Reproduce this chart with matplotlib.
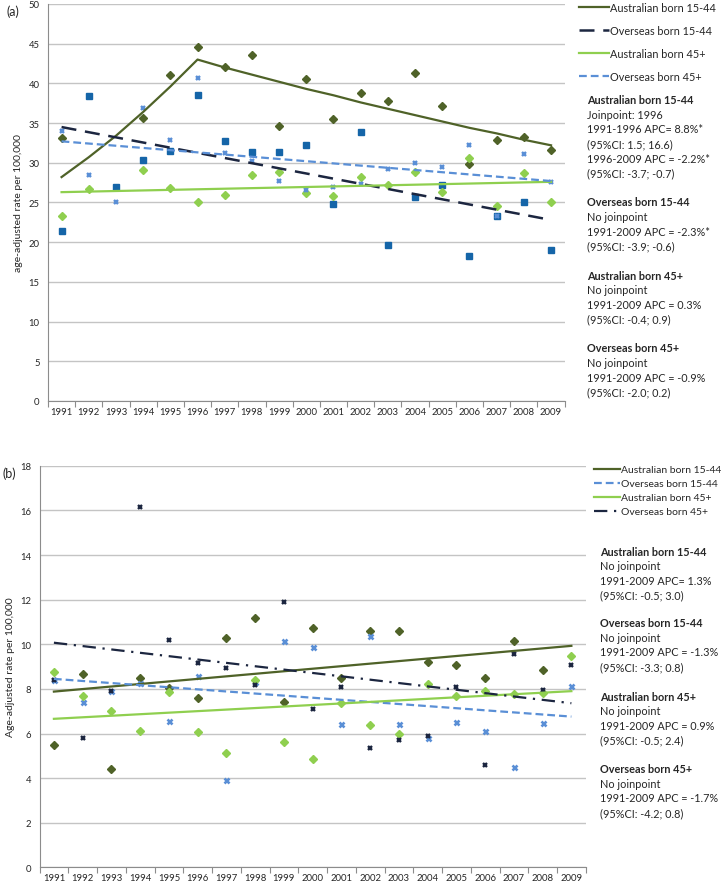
import numpy as np
import matplotlib.pyplot as plt

plt.rcParams['font.family'] = ['Lato', 'DejaVu Sans']

years = list(range(1991, 2010))
nan = np.nan

# ---- panel (a) observed rates
aus1544_a = [33.1, nan, nan, 35.7, 41.1, 44.6, 42.0, 43.6, 34.6, 40.5, 35.5, 38.8, 37.8, 41.3, 37.1, 29.8, 32.9, 33.2, 31.6]
os1544_a = [21.4, 38.4, 26.9, 30.4, 31.5, 38.5, 32.7, 31.3, 31.4, 32.2, 24.8, 33.9, 19.7, 25.7, 27.2, 18.2, 23.3, 25.1, 19.0]
aus45_a = [23.3, 26.7, nan, 29.1, 26.8, 25.0, 25.9, 28.5, 28.8, 26.2, 25.8, 28.2, 27.2, 28.9, 26.3, 30.6, 24.6, 28.7, 25.0]
os45_a = [34.0, 28.5, 25.1, 36.9, 32.9, 40.7, 31.2, 30.2, 27.7, 26.6, 27.0, 27.3, 29.2, 30.0, 29.5, 32.3, 23.3, 31.1, 27.6]

# joinpoint fit for Australian born 15-44
aus1544_a_fit = [28.2, 30.7, 33.4, 36.4, 39.6, 43.0, 42.0, 41.1, 40.2, 39.3, 38.5, 37.6, 36.8, 36.0, 35.2, 34.4, 33.7, 32.9, 32.2]
# straight trend lines: values at 1991 and 2009
fit_years = [1991, 2009]
os1544_a_fit = [34.5, 22.8]
aus45_a_fit = [26.3, 27.6]
os45_a_fit = [32.7, 27.7]

# ---- panel (b) observed rates
aus1544_b = [5.49, 8.65, 4.42, 8.47, 8.04, 7.6, 10.29, 11.17, 7.42, 10.71, 8.5, 10.58, 10.59, 9.2, 9.07, 8.51, 10.13, 8.86, nan]
os1544_b = [8.4, 7.42, 7.9, 8.27, 6.58, 8.57, 3.92, 8.3, 10.16, 9.9, 6.45, 10.38, 6.45, 5.81, 6.54, 6.12, 4.49, 6.48, 8.15]
aus45_b = [8.75, 7.7, 7.03, 6.13, 7.85, 6.08, 5.15, 8.4, 5.6, 4.88, 7.39, 6.4, 5.97, 8.24, 7.68, 7.91, 7.75, 7.8, 9.47]
os45_b = [8.42, 5.81, 7.9, 16.15, 10.2, 9.15, 8.95, 8.18, 11.9, 7.11, 8.08, 5.37, 5.72, 5.9, 8.08, 4.58, 9.57, 7.93, 9.08]

aus1544_b_fit = [7.88, 9.93]
os1544_b_fit = [8.45, 6.76]
aus45_b_fit = [6.66, 7.9]
os45_b_fit = [10.07, 7.36]

labels = ["Australian born 15-44", "Overseas born 15-44", "Australian born 45+", "Overseas born 45+"]

olive = "#4F6228"
green = "#8FCF4F"
dkblue = "#1565A8"
ltblue = "#5A8FD6"
navy = "#1C2640"
grid_c = "#C4C4C4"
spine_c = "#8C8C8C"
txt_c = "#262626"

fig = plt.figure(figsize=(7.28, 8.87), dpi=100)


def style_axis(ax, ymax, ystep, ylabel):
    ax.set_xlim(1990.5, 2009.5)
    ax.set_ylim(0, ymax)
    ax.set_yticks(np.arange(0, ymax + 0.1, ystep))
    ax.set_xticks(years)
    ax.set_xticklabels([str(y) for y in years])
    ax.set_xticks(np.arange(1990.5, 2010, 1), minor=True)
    ax.tick_params(axis='x', which='major', length=0, pad=4, labelsize=6.8, colors=txt_c)
    ax.tick_params(axis='x', which='minor', length=4, color=spine_c, width=0.8)
    ax.tick_params(axis='y', length=0, pad=6, labelsize=6.8, colors=txt_c)
    ax.grid(axis='y', color=grid_c, lw=1.0)
    ax.set_axisbelow(True)
    for s in ['top', 'right']:
        ax.spines[s].set_visible(False)
    for s in ['left', 'bottom']:
        ax.spines[s].set_color(spine_c)
        ax.spines[s].set_linewidth(0.8)
    ax.set_ylabel(ylabel, fontsize=7.5, color=txt_c, labelpad=4)


def notes(blocks, x, starts):
    lh = 14.6 / 887
    for i, block in enumerate(blocks):
        for j, line in enumerate(block):
            fig.text(x / 728, 1 - starts[i] / 887 - j * lh, line, fontsize=7.8, color=txt_c,
                     fontweight='bold' if j == 0 else 'normal', va='center', ha='left')


# ================= panel (a)
ax1 = fig.add_axes([0.0659, 0.5468, 0.7097, 0.4476])
ax1.plot(years, aus1544_a, ls='none', marker='D', ms=3.8, color=olive)
ax1.plot(years, os1544_a, ls='none', marker='s', ms=3.7, color=dkblue)
ax1.plot(years, aus45_a, ls='none', marker='D', ms=4.3, color=green)
ax1.plot(years, os45_a, ls='none', marker='x', ms=3.4, mew=1.7, color=ltblue)

la1, = ax1.plot(years, aus1544_a_fit, color=olive, lw=1.6)
la2, = ax1.plot(fit_years, os1544_a_fit, color=navy, lw=1.8, dashes=(6, 3.5))
la3, = ax1.plot(fit_years, aus45_a_fit, color=green, lw=1.6)
la4, = ax1.plot(fit_years, os45_a_fit, color=ltblue, lw=1.6, dashes=(3.5, 1.8))
style_axis(ax1, 50, 5, "age-adjusted rate per 100,000")
ax1.legend([la1, la2, la3, la4], labels, loc='upper left', bbox_to_anchor=(1.02, 1.017),
           frameon=False, fontsize=7.8, handlelength=2.7, handletextpad=0.1,
           labelspacing=1.12, borderaxespad=0, labelcolor=txt_c)
fig.text(0.009, 0.987, "(a)", fontsize=9, color=txt_c, va='center')

notes_a = [
    ["Australian born 15-44", "Joinpoint: 1996", "1991-1996 APC= 8.8%*", "(95%CI: 1.5; 16.6)",
     "1996-2009 APC = -2.2%*", "(95%CI: -3.7; -0.7)"],
    ["Overseas born 15-44", "No joinpoint", "1991-2009 APC = -2.3%*", "(95%CI: -3.9; -0.6)"],
    ["Australian born 45+", "No joinpoint", "1991-2009 APC = 0.3%", "(95%CI: -0.4; 0.9)"],
    ["Overseas born 45+", "No joinpoint", "1991-2009 APC = -0.9%", "(95%CI: -2.0; 0.2)"],
]
notes(notes_a, 586.7, [100.7, 203.0, 276.3, 349.0])

# ================= panel (b)
ax2 = fig.add_axes([0.0543, 0.0209, 0.7503, 0.4529])
ax2.plot(years, aus1544_b, ls='none', marker='D', ms=3.8, color=olive)
ax2.plot(years, os1544_b, ls='none', marker='x', ms=3.6, mew=1.9, color=ltblue)
ax2.plot(years, aus45_b, ls='none', marker='D', ms=4.0, color=green)
ax2.plot(years, os45_b, ls='none', marker='x', ms=3.4, mew=1.7, color=navy)

lb1, = ax2.plot(fit_years, aus1544_b_fit, color=olive, lw=1.6)
lb2, = ax2.plot(fit_years, os1544_b_fit, color=ltblue, lw=1.6, dashes=(3.5, 1.8))
lb3, = ax2.plot(fit_years, aus45_b_fit, color=green, lw=1.6)
lb4, = ax2.plot(fit_years, os45_b_fit, color=navy, lw=1.6, dashes=(6, 3, 1, 3))
style_axis(ax2, 18, 2, "Age-adjusted rate per 100,000")
ax2.legend([lb1, lb2, lb3, lb4], labels, loc='upper left', bbox_to_anchor=(1.007, 1.012),
           frameon=False, fontsize=7.5, handlelength=2.5, handletextpad=0.1,
           labelspacing=0.45, borderaxespad=0, labelcolor=txt_c)
fig.text(0.004, 0.466, "(b)", fontsize=9, color=txt_c, va='center')

notes_b = [
    ["Australian born 15-44", "No joinpoint", "1991-2009 APC= 1.3%", "(95%CI: -0.5; 3.0)"],
    ["Overseas born 15-44", "No joinpoint", "1991-2009 APC = -1.3%", "(95%CI: -3.3; 0.8)"],
    ["Australian born 45+", "No joinpoint", "1991-2009 APC = 0.9%", "(95%CI: -0.5; 2.4)"],
    ["Overseas born 45+", "No joinpoint", "1991-2009 APC = -1.7%", "(95%CI: -4.2; 0.8)"],
]
notes(notes_b, 600, [552.3, 623.7, 697.3, 769.7])

fig.savefig("out.png", dpi=100)
